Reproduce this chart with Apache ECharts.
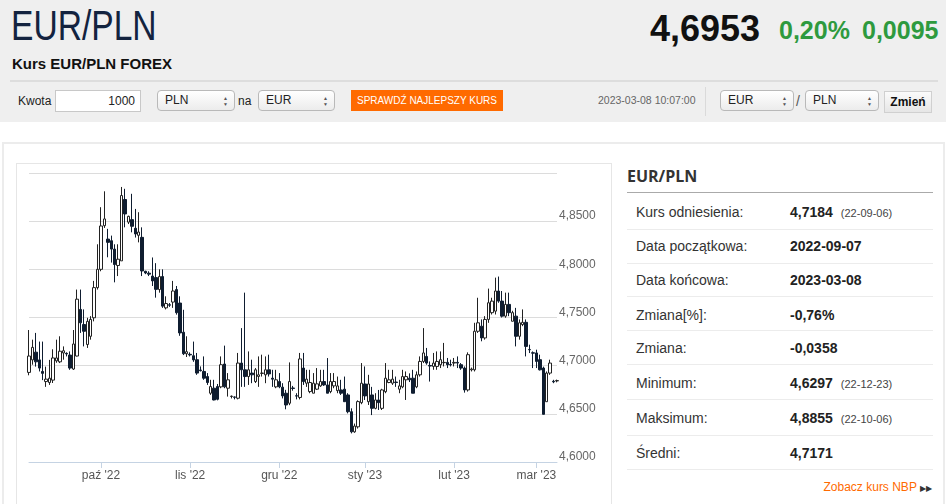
<!DOCTYPE html>
<html><head><meta charset="utf-8">
<script src="https://cdn.jsdelivr.net/npm/echarts/dist/echarts.min.js"></script>
<style>
html,body{margin:0;padding:0;}
body{width:948px;height:504px;overflow:hidden;background:#fff;font-family:"Liberation Sans",Arial,sans-serif;position:relative;color:#333;}
.a{position:absolute;white-space:nowrap;}
#hdr{left:0;top:0;width:946px;height:122px;background:#efefef;}
.sel{position:absolute;top:90px;height:19px;border:1px solid #b9b9b9;border-radius:4px;background:linear-gradient(#ffffff,#ececec);font-size:12px;line-height:19px;padding-left:7px;box-sizing:content-box;color:#222;}
.ar{position:absolute;right:6px;top:4px;font-size:5px;line-height:6px;color:#555;}
.lbl{position:absolute;left:636px;font-size:14px;line-height:16px;color:#333;white-space:nowrap;}
.val{position:absolute;left:790px;font-size:14px;line-height:16px;font-weight:bold;color:#222;white-space:nowrap;}
.dt{font-size:11px;font-weight:normal;color:#444;margin-left:8px;}
.sep{position:absolute;left:627px;width:306px;height:1px;background:#ececec;}
</style></head>
<body>
<div id="hdr" class="a"></div>
<div class="a" style="left:11px;top:2px;font-size:42px;line-height:48px;color:#13233f;transform:scaleX(0.8);transform-origin:0 50%;">EUR/PLN</div>
<div class="a" style="left:12px;top:55px;font-size:15px;line-height:18px;font-weight:bold;color:#111;">Kurs EUR/PLN FOREX</div>
<div class="a" style="left:650px;top:9px;font-size:36px;line-height:40px;font-weight:bold;color:#111;">4,6953</div>
<div class="a" style="left:779px;top:15px;font-size:25px;line-height:30px;font-weight:bold;color:#2e9a3e;">0,20%</div>
<div class="a" style="left:862px;top:15px;font-size:25px;line-height:30px;font-weight:bold;color:#2e9a3e;">0,0095</div>
<div class="a" style="left:10px;top:80px;width:928px;height:2px;background:#dddddd;"></div>
<div class="a" style="left:18px;top:93px;font-size:12px;line-height:16px;color:#222;">Kwota</div>
<div class="a" style="left:55px;top:90px;width:79px;height:20px;border:1px solid #c8c8c8;background:#fff;font-size:12px;line-height:20px;text-align:right;padding-right:5px;color:#222;">1000</div>
<div class="sel" style="left:157px;width:69px;">PLN<span class="ar">&#9650;<br>&#9660;</span></div>
<div class="a" style="left:238px;top:93px;font-size:12px;line-height:16px;color:#222;">na</div>
<div class="sel" style="left:258px;width:68px;">EUR<span class="ar">&#9650;<br>&#9660;</span></div>
<div class="a" style="left:351px;top:90px;width:152px;height:21px;background:#ff6a00;color:#fff;font-size:10px;line-height:21px;text-align:center;">SPRAWDŹ NAJLEPSZY KURS</div>
<div class="a" style="left:598px;top:94px;font-size:10.5px;line-height:13px;color:#666;">2023-03-08 10:07:00</div>
<div class="a" style="left:705px;top:87px;width:1px;height:29px;background:#dadada;"></div>
<div class="sel" style="left:720px;width:65px;">EUR<span class="ar">&#9650;<br>&#9660;</span></div>
<div class="a" style="left:796px;top:92px;font-size:14px;line-height:18px;color:#555;">/</div>
<div class="sel" style="left:805px;width:65px;">PLN<span class="ar">&#9650;<br>&#9660;</span></div>
<div class="a" style="left:884px;top:91px;width:46px;height:20px;border:1px solid #d0d0d0;background:linear-gradient(#fbfbfb,#e6e6e6);font-size:12px;line-height:20px;font-weight:bold;text-align:center;color:#111;">Zmień</div>

<div class="a" style="left:2px;top:142px;width:939px;height:400px;border:2px solid #ececec;"></div>
<div class="a" style="left:16px;top:163px;width:594px;height:380px;border:1px solid #e6e6e6;"></div>

<div class="a" style="left:627px;top:165px;font-family:'Open Sans','Liberation Sans',Arial;font-size:16px;line-height:22px;font-weight:bold;color:#333;">EUR/PLN</div>
<div class="a" style="left:627px;top:192px;width:306px;height:1px;background:#aaaaaa;"></div>

<div class="lbl" style="top:204px;">Kurs odniesienia:</div><div class="val" style="top:204px;">4,7184<span class="dt">(22-09-06)</span></div>
<div class="sep" style="top:229px;"></div>
<div class="lbl" style="top:238px;">Data początkowa:</div><div class="val" style="top:238px;">2022-09-07</div>
<div class="sep" style="top:263px;"></div>
<div class="lbl" style="top:272px;">Data końcowa:</div><div class="val" style="top:272px;">2023-03-08</div>
<div class="sep" style="top:296px;"></div>
<div class="lbl" style="top:307px;">Zmiana[%]:</div><div class="val" style="top:307px;">-0,76%</div>
<div class="sep" style="top:330px;"></div>
<div class="lbl" style="top:340px;">Zmiana:</div><div class="val" style="top:340px;">-0,0358</div>
<div class="sep" style="top:364px;"></div>
<div class="lbl" style="top:375px;">Minimum:</div><div class="val" style="top:375px;">4,6297<span class="dt">(22-12-23)</span></div>
<div class="sep" style="top:399px;"></div>
<div class="lbl" style="top:410px;">Maksimum:</div><div class="val" style="top:410px;">4,8855<span class="dt">(22-10-06)</span></div>
<div class="sep" style="top:435px;"></div>
<div class="lbl" style="top:445px;">Średni:</div><div class="val" style="top:445px;">4,7171</div>
<div class="sep" style="top:469px;"></div>
<div class="a" style="right:16px;top:480px;font-size:12px;line-height:15px;color:#ff6a00;">Zobacz kurs NBP <span style="color:#333;font-size:8px;">&#9654;&#9654;</span></div>

<div id="chart" class="a" style="left:17px;top:164px;width:593px;height:340px;"></div>

<script>
// trading slots (Sun–Fri sessions) from 2022-09-07 to 2023-03-08
const dates = [
'2022-09-07','2022-09-08','2022-09-09','2022-09-11','2022-09-12','2022-09-13','2022-09-14','2022-09-15','2022-09-16',
'2022-09-18','2022-09-19','2022-09-20','2022-09-21','2022-09-22','2022-09-23',
'2022-09-25','2022-09-26','2022-09-27','2022-09-28','2022-09-29','2022-09-30',
'2022-10-02','2022-10-03','2022-10-04','2022-10-05','2022-10-06','2022-10-07',
'2022-10-09','2022-10-10','2022-10-11','2022-10-12','2022-10-13','2022-10-14',
'2022-10-16','2022-10-17','2022-10-18','2022-10-19','2022-10-20','2022-10-21',
'2022-10-23','2022-10-24','2022-10-25','2022-10-26','2022-10-27','2022-10-28',
'2022-10-30','2022-10-31',
'2022-11-01','2022-11-02','2022-11-03','2022-11-04',
'2022-11-06','2022-11-07','2022-11-08','2022-11-09','2022-11-10','2022-11-11',
'2022-11-13','2022-11-14','2022-11-15','2022-11-16','2022-11-17','2022-11-18',
'2022-11-20','2022-11-21','2022-11-22','2022-11-23','2022-11-24','2022-11-25',
'2022-11-27','2022-11-28','2022-11-29','2022-11-30',
'2022-12-01','2022-12-02',
'2022-12-04','2022-12-05','2022-12-06','2022-12-07','2022-12-08','2022-12-09',
'2022-12-11','2022-12-12','2022-12-13','2022-12-14','2022-12-15','2022-12-16',
'2022-12-18','2022-12-19','2022-12-20','2022-12-21','2022-12-22','2022-12-23',
'2022-12-26','2022-12-27','2022-12-28','2022-12-29','2022-12-30',
'2023-01-02','2023-01-03','2023-01-04','2023-01-05','2023-01-06',
'2023-01-08','2023-01-09','2023-01-10','2023-01-11','2023-01-12','2023-01-13',
'2023-01-15','2023-01-16','2023-01-17','2023-01-18','2023-01-19','2023-01-20',
'2023-01-22','2023-01-23','2023-01-24','2023-01-25','2023-01-26','2023-01-27',
'2023-01-29','2023-01-30','2023-01-31',
'2023-02-01','2023-02-02','2023-02-03',
'2023-02-05','2023-02-06','2023-02-07','2023-02-08','2023-02-09','2023-02-10',
'2023-02-12','2023-02-13','2023-02-14','2023-02-15','2023-02-16','2023-02-17',
'2023-02-19','2023-02-20','2023-02-21','2023-02-22','2023-02-23','2023-02-24',
'2023-02-26','2023-02-27','2023-02-28',
'2023-03-01','2023-03-02','2023-03-03',
'2023-03-05','2023-03-06','2023-03-07','2023-03-08'
];
// [open, close, low, high]
const ohlc = [
[4.693,4.710,4.690,4.737],[4.706,4.719,4.701,4.727],[4.714,4.704,4.699,4.734],[4.706,4.6975,4.694,4.725],
[4.694,4.692,4.685,4.725],[4.6835,4.686,4.678,4.699],[4.6825,4.687,4.680,4.706],[4.685,4.708,4.682,4.717],
[4.705,4.708,4.703,4.727],[4.704,4.715,4.7027,4.7305],[4.7132,4.7155,4.7062,4.720],[4.7128,4.7122,4.7096,4.7138],
[4.711,4.6975,4.6957,4.7148],[4.6965,4.7225,4.6955,4.737],[4.710,4.769,4.7096,4.779],[4.7584,4.7445,4.734,4.779],
[4.7427,4.7357,4.720,4.7584],[4.722,4.746,4.7184,4.7497],[4.7305,4.748,4.727,4.7514],[4.7497,4.781,4.746,4.788],
[4.781,4.800,4.779,4.826],[4.800,4.845,4.798,4.8645],[4.8453,4.8523,4.843,4.881],[4.8314,4.828,4.8125,4.842],
[4.8297,4.821,4.807,4.835],[4.821,4.805,4.7865,4.826],[4.804,4.8105,4.793,4.826],[4.8088,4.8766,4.8088,4.8855],
[4.8725,4.8575,4.8436,4.8836],[4.849,4.855,4.847,4.8557],[4.8516,4.8447,4.8384,4.8784],[4.8426,4.8367,4.833,4.8627],
[4.8353,4.8387,4.828,4.8593],[4.8332,4.7983,4.793,4.8436],[4.798,4.7962,4.795,4.7985],[4.796,4.795,4.793,4.798],
[4.793,4.788,4.7827,4.8123],[4.7914,4.7792,4.7706,4.8064],[4.779,4.7925,4.7758,4.800],[4.7925,4.7618,4.760,4.800],
[4.760,4.7645,4.7584,4.772],[4.7632,4.7628,4.761,4.765],[4.766,4.7775,4.760,4.788],[4.779,4.755,4.753,4.7827],
[4.765,4.734,4.731,4.772],[4.7347,4.7124,4.711,4.758],[4.7124,4.7145,4.709,4.7305],[4.7118,4.7112,4.7096,4.7138],
[4.7103,4.706,4.704,4.725],[4.7062,4.6923,4.6905,4.7132],[4.6955,4.6948,4.694,4.6992],[4.694,4.687,4.6853,4.7096],
[4.6887,4.6825,4.680,4.6923],[4.6714,4.6783,4.6697,4.6853],[4.6766,4.6644,4.6640,4.6853],[4.6783,4.6651,4.664,4.681],
[4.678,4.701,4.6766,4.7096],[4.7017,4.678,4.6766,4.7208],[4.6766,4.6853,4.6679,4.6923],[4.668,4.6683,4.666,4.669],
[4.6675,4.6672,4.665,4.668],[4.6662,4.7027,4.665,4.7132],[4.7027,4.6957,4.678,4.739],[4.6957,4.6887,4.678,4.7758],
[4.6887,4.6957,4.680,4.7148],[4.6923,4.6905,4.6818,4.7062],[4.6835,4.6957,4.682,4.6975],[4.6888,4.6905,4.678,4.7096],
[4.692,4.6923,4.6887,4.7114],[4.6905,4.6957,4.6818,4.7096],[4.6957,4.6914,4.6887,4.7114],[4.687,4.686,4.678,4.6957],
[4.678,4.6853,4.6766,4.6957],[4.6835,4.678,4.6766,4.6923],[4.6777,4.6686,4.666,4.6818],[4.6714,4.6592,4.6547,4.6749],
[4.661,4.6835,4.659,4.7034],[4.6768,4.6764,4.674,4.679],[4.6688,4.6684,4.665,4.6714],[4.667,4.707,4.665,4.7132],
[4.6975,4.6835,4.680,4.7132],[4.6818,4.686,4.678,4.6957],[4.6731,4.6825,4.6714,4.6957],[4.6714,4.6818,4.6714,4.6923],
[4.6756,4.6811,4.6748,4.6975],[4.679,4.6835,4.678,4.6957],[4.6835,4.680,4.679,4.6957],[4.680,4.6714,4.6714,4.7079],
[4.6731,4.6835,4.6714,4.6923],[4.679,4.6835,4.6766,4.6923],[4.6741,4.679,4.6714,4.6887],[4.6748,4.6714,4.6696,4.6853],
[4.6756,4.6626,4.6626,4.6887],[4.6696,4.6522,4.6505,4.6714],[4.6522,4.6313,4.6297,4.6557],[4.6313,4.6373,4.6303,4.6399],
[4.6365,4.6627,4.6347,4.664],[4.6616,4.6818,4.660,4.7027],[4.681,4.6686,4.6644,4.6992],[4.6626,4.681,4.6592,4.6905],
[4.6696,4.6557,4.6487,4.678],[4.6557,4.6644,4.6547,4.6714],[4.6644,4.6616,4.654,4.6748],[4.6557,4.6748,4.654,4.676],
[4.673,4.687,4.6714,4.7027],[4.6825,4.6853,4.6818,4.6957],[4.6818,4.686,4.680,4.6957],[4.683,4.6825,4.678,4.6887],
[4.6756,4.679,4.6714,4.6853],[4.678,4.6887,4.6766,4.6957],[4.6853,4.6887,4.6644,4.694],[4.687,4.6853,4.683,4.692],
[4.687,4.6714,4.6714,4.6957],[4.678,4.6905,4.6766,4.694],[4.6905,4.7044,4.6887,4.7096],[4.7044,4.7132,4.7027,4.739],
[4.7096,4.7027,4.701,4.7184],[4.7002,4.6996,4.6835,4.7044],[4.6992,4.7027,4.6957,4.7132],[4.6992,4.7044,4.6957,4.7148],
[4.701,4.7062,4.6975,4.7148],[4.7031,4.7034,4.6992,4.7236],[4.7034,4.701,4.6975,4.708],[4.7012,4.7008,4.6992,4.7062],
[4.7027,4.7034,4.6992,4.708],[4.7034,4.7027,4.6975,4.7096],[4.701,4.6975,4.6957,4.7027],[4.6975,4.6748,4.672,4.6992],
[4.6748,4.7114,4.6731,4.7138],[4.6957,4.6965,4.694,4.698],[4.6957,4.7357,4.694,4.7445],[4.7357,4.7445,4.734,4.7705],
[4.741,4.7288,4.7253,4.748],[4.7288,4.748,4.727,4.7514],[4.748,4.7653,4.7445,4.780],[4.755,4.767,4.7531,4.7705],
[4.7566,4.7775,4.7531,4.7914],[4.7775,4.767,4.7653,4.7925],[4.767,4.7514,4.750,4.7775],[4.7514,4.7636,4.7497,4.7758],
[4.7636,4.755,4.7514,4.7758],[4.7461,4.755,4.7461,4.757],[4.7514,4.7305,4.720,4.760],[4.7305,4.7445,4.727,4.748],
[4.7427,4.745,4.741,4.7584],[4.745,4.720,4.7096,4.748],[4.7168,4.7165,4.7131,4.7218],[4.7134,4.713,4.6975,4.7148],
[4.7132,4.7044,4.6975,4.7166],[4.7062,4.6957,4.6950,4.7114],[4.6975,4.6495,4.6495,4.699],[4.6626,4.6923,4.6626,4.694],
[4.6923,4.7027,4.6905,4.7062],[4.6838,4.6832,4.6818,4.6853],[4.6842,4.6845,4.6827,4.6855]
];
const monthTickDates = ['2022-10-02','2022-11-01','2022-12-01','2023-01-02','2023-02-01','2023-03-01'];
const monthTickLabels = ["paź '22","lis '22","gru '22","sty '23","lut '23","mar '23"];
const yMin = 4.60, yMax = 4.90, yStep = 0.05;

const labelOf = {};
monthTickDates.forEach((d, i) => { labelOf[d] = monthTickLabels[i]; });
const isTick = (idx, val) => labelOf[val] !== undefined;

const chart = echarts.init(document.getElementById('chart'), null, {renderer: 'canvas'});
chart.setOption({
  animation: false,
  grid: {left: 12, right: 53, top: 9, bottom: 42},
  xAxis: {
    type: 'category',
    data: dates,
    boundaryGap: false,
    axisLine: {show: true, lineStyle: {color: '#c5d3e3', width: 1}},
    axisTick: {show: true, interval: isTick, length: 6, lineStyle: {color: '#c5d3e3'}},
    axisLabel: {interval: isTick, formatter: v => labelOf[v] || '', color: '#555', fontSize: 12, margin: 8,
      fontFamily: 'Liberation Sans, Arial, sans-serif'},
    splitLine: {show: false}
  },
  yAxis: {
    type: 'value',
    position: 'right',
    min: yMin, max: yMax, interval: yStep,
    axisLine: {show: false},
    axisTick: {show: false},
    axisLabel: {
      margin: 2, color: '#666', fontSize: 12, verticalAlign: 'bottom', lineHeight: 10,
      fontFamily: 'Liberation Sans, Arial, sans-serif',
      formatter: v => (v > yMax - 0.001) ? '' : v.toFixed(4).replace('.', ',')
    },
    splitLine: {show: true, lineStyle: {color: '#dcdcdc', width: 1}}
  },
  series: [{
    type: 'candlestick',
    data: ohlc,
    barWidth: 3,
    itemStyle: {
      color: '#ffffff', color0: '#0f1d30',
      borderColor: '#222222', borderColor0: '#0f1d30', borderWidth: 1
    }
  }]
});
</script>
</body></html>
